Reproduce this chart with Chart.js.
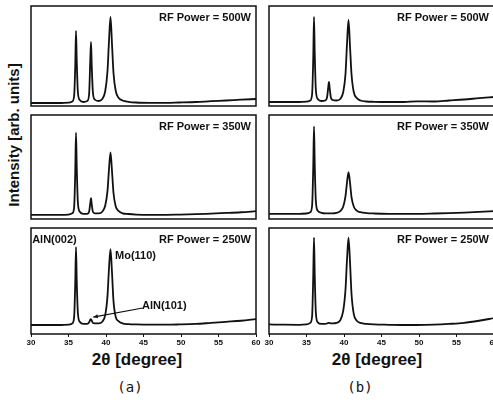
<!DOCTYPE html>
<html>
<head>
<meta charset="utf-8">
<script src="https://cdn.jsdelivr.net/npm/chart.js@4.4.1/dist/chart.umd.min.js"></script>
<style>
  html, body { margin: 0; padding: 0; background: #fff; }
  body { width: 493px; height: 400px; overflow: hidden; position: relative; font-family: "Liberation Sans", Arial, sans-serif; color: #111; }
  .panel { position: absolute; }
  .ytitle { position: absolute; left: 13px; top: 135px; transform: translate(-50%, -50%) rotate(-90deg); font-weight: bold; font-size: 15px; white-space: nowrap; }
  .xtitle { position: absolute; top: 360px; transform: translate(-50%, -50%); font-weight: bold; font-size: 17px; white-space: nowrap; }
  .sub { position: absolute; top: 387px; transform: translate(-50%, -50%); font-family: "DejaVu Sans Mono", monospace; font-size: 14px; white-space: nowrap; }
</style>
</head>
<body>
<div class="ytitle">Intensity [arb. units]</div>
<div class="xtitle" style="left:137px">2θ [degree]</div>
<div class="xtitle" style="left:377px">2θ [degree]</div>
<div class="sub" style="left:130px">(a)</div>
<div class="sub" style="left:360px">(b)</div>

<script>
// --- DATA (intensity in % of panel height) ---
const twoTheta = [30, 32, 34, 35, 35.5, 35.75, 35.9, 36.0, 36.1, 36.25, 36.5, 37.0, 37.5, 37.75, 37.9, 38.0, 38.1, 38.25, 38.5, 39.0,
                  39.5, 39.9, 40.2, 40.4, 40.6, 40.8, 41.0, 41.3, 41.7, 42.2, 43, 44, 46, 48, 49.7, 52, 54, 56, 58, 60];

// column (a)
const a500 = [3, 3, 3, 3.3, 4.5, 10, 40, 75, 45, 14, 6, 4, 5, 12, 45, 64, 40, 14, 6.5, 5,
              7, 15, 35, 65, 89, 62, 33, 15, 8, 5.5, 4.2, 3.5, 3.2, 3.2, 3.5, 4, 4.8, 5.5, 6.3, 7];
const a350 = [4, 4, 4, 4.3, 5.5, 11, 45, 83, 50, 16, 7, 5, 5, 7, 15, 20, 14, 7, 5.5, 5.5,
              7, 13, 27, 48, 64, 46, 25, 12, 7.5, 5.5, 4.8, 4.3, 4, 4, 4.2, 4.6, 5.2, 5.8, 6.5, 7.5];
const a250 = [8.5, 8.5, 8.5, 8.8, 10, 16, 48, 82, 50, 20, 11.5, 9.5, 9.5, 11, 13.5, 14, 12.5, 10.5, 10, 10,
              11.5, 18, 36, 62, 80, 58, 31, 16, 12, 10, 9.3, 9, 8.8, 8.8, 9, 9.5, 10.5, 11.5, 12.5, 14];
// column (b)
const b500 = [4, 4, 4, 4.3, 5.5, 12, 48, 89, 52, 16, 7, 5, 5.5, 9, 19, 24, 17, 8.5, 6, 5.5,
              7, 14, 32, 62, 86, 60, 32, 14, 8, 5.5, 4.5, 4.2, 4, 4, 4.6, 4.5, 5.5, 6.5, 7.8, 9];
const b350 = [5, 5, 5, 5.3, 6.5, 13, 50, 89, 52, 17, 8, 6, 5.5, 5.5, 5.5, 5.5, 5.5, 5.5, 5.5, 6,
              7.5, 12, 22, 35, 45, 35, 21, 12, 8, 6.5, 5.7, 5.3, 5, 5, 5, 5.3, 5.7, 6.2, 6.8, 7.5];
const b250 = [9, 8.8, 8.7, 9, 10.5, 17, 55, 91, 55, 20, 11, 9.5, 9.5, 10, 10.5, 10.5, 10.3, 10, 10, 10.5,
              13, 22, 42, 70, 91, 68, 38, 19, 12.5, 10.5, 9.5, 9, 8.7, 8.5, 8.5, 8.8, 9.5, 10.5, 12.5, 15];

const xTicks = [30, 35, 40, 45, 50, 55, 60];
const powerLabels = ['RF Power = 500W', 'RF Power = 350W', 'RF Power = 250W'];

// peak labels of the bottom-left panel, in (2θ, intensity)
const peakNames = ['AlN(002)', 'Mo(110)', 'AlN(101)'];
const peakNameX = [30.15, 41.2, 44.8];
const peakNameY = [89, 74, 26];
const arrowFrom = [44.9, 24.5];
const arrowTo = [38.3, 16];

// --- LAYOUT ---
const colLeft = [31, 269];
const plotW = 225;
const rowTop = [6, 115, 228];
const rowH = [100, 104, 106];
const PAD = 8, AXIS_H = 14;

const INK = '#111';
const FONT = '"Liberation Sans", Arial, sans-serif';

const framePlugin = {
  id: 'frame',
  afterDraw(chart) {
    const { ctx, chartArea: a } = chart;
    ctx.save();
    ctx.strokeStyle = INK;
    ctx.lineWidth = 1.5;
    ctx.strokeRect(a.left, a.top, a.right - a.left, a.bottom - a.top);
    ctx.restore();
  }
};

const textPlugin = {
  id: 'panelText',
  afterDraw(chart, args, opts) {
    const { ctx, chartArea: a, scales } = chart;
    ctx.save();
    ctx.fillStyle = INK;
    ctx.font = 'bold 11px ' + FONT;
    ctx.textBaseline = 'middle';
    ctx.textAlign = 'right';
    ctx.fillText(opts.title, a.right - 5, a.top + 11.5);
    if (opts.peaks) {
      ctx.textAlign = 'left';
      peakNames.forEach((n, i) => {
        ctx.fillText(n, scales.x.getPixelForValue(peakNameX[i]), scales.y.getPixelForValue(peakNameY[i]));
      });
      const x1 = scales.x.getPixelForValue(arrowFrom[0]), y1 = scales.y.getPixelForValue(arrowFrom[1]);
      const x2 = scales.x.getPixelForValue(arrowTo[0]), y2 = scales.y.getPixelForValue(arrowTo[1]);
      ctx.strokeStyle = INK;
      ctx.lineWidth = 1.2;
      ctx.beginPath(); ctx.moveTo(x1, y1); ctx.lineTo(x2, y2); ctx.stroke();
      const ang = Math.atan2(y2 - y1, x2 - x1), h = 5;
      ctx.beginPath();
      ctx.moveTo(x2, y2);
      ctx.lineTo(x2 - h * Math.cos(ang - 0.4), y2 - h * Math.sin(ang - 0.4));
      ctx.lineTo(x2 - h * Math.cos(ang + 0.4), y2 - h * Math.sin(ang + 0.4));
      ctx.closePath(); ctx.fill();
    }
    ctx.restore();
  }
};

function makePanel(col, row, series) {
  const div = document.createElement('div');
  div.className = 'panel';
  const w = plotW + 2 * PAD, h = rowH[row] + 2 + AXIS_H;
  div.style.left = (colLeft[col] - PAD) + 'px';
  div.style.top = (rowTop[row] - 2) + 'px';
  div.style.width = w + 'px';
  div.style.height = h + 'px';
  const cv = document.createElement('canvas');
  cv.width = w; cv.height = h;
  cv.style.width = w + 'px'; cv.style.height = h + 'px';
  div.appendChild(cv);
  document.body.appendChild(div);

  const bottom = row === 2;
  new Chart(cv, {
    type: 'line',
    data: {
      datasets: [{
        data: twoTheta.map((x, i) => ({ x, y: series[i] })),
        borderColor: INK, borderWidth: 1.8, pointRadius: 0, fill: false,
        cubicInterpolationMode: 'monotone'
      }]
    },
    options: {
      responsive: false, animation: false,
      layout: { padding: { left: PAD, right: PAD, top: 2, bottom: 0 } },
      plugins: {
        legend: { display: false }, tooltip: { enabled: false },
        panelText: { title: powerLabels[row], peaks: bottom && col === 0 }
      },
      scales: {
        x: {
          type: 'linear', min: 30, max: 60,
          afterBuildTicks: s => { s.ticks = xTicks.map(v => ({ value: v })); },
          afterFit: s => { s.height = AXIS_H; s.paddingLeft = 0; s.paddingRight = 0; },
          ticks: { color: bottom ? INK : 'rgba(0,0,0,0)', font: { size: 8, weight: 'bold', family: FONT }, padding: 1, maxRotation: 0, autoSkip: false },
          grid: { display: bottom, drawOnChartArea: false, drawTicks: true, tickLength: 3, color: INK },
          border: { display: false }
        },
        y: { display: false, min: 0, max: 100 }
      }
    },
    plugins: [framePlugin, textPlugin]
  });
}

makePanel(0, 0, a500);
makePanel(0, 1, a350);
makePanel(0, 2, a250);
makePanel(1, 0, b500);
makePanel(1, 1, b350);
makePanel(1, 2, b250);
</script>
</body>
</html>
